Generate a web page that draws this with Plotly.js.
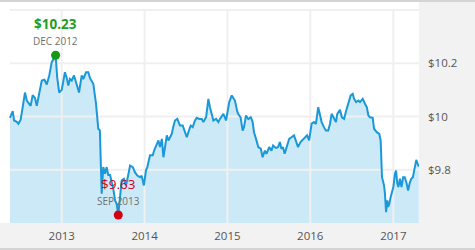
<!DOCTYPE html>
<html><head><meta charset="utf-8">
<script src="https://cdn.plot.ly/plotly-3.0.1.min.js"></script>
<style>
html,body{margin:0;padding:0;background:#f2f2f2;}
body{width:475px;height:250px;overflow:hidden;}
#top{height:2px;background:#d4d4d4;}
#chart{width:475px;height:246px;}
#bot{height:2px;background:#d4d4d4;}
</style></head><body>
<div id="top"></div><div id="chart"></div><div id="bot"></div>
<script>
const dates = [
'2012-05-18','2012-05-30','2012-06-05','2012-06-17','2012-06-24','2012-07-04','2012-07-13','2012-07-23','2012-07-31','2012-08-17',
'2012-08-26','2012-09-05','2012-09-13','2012-09-24','2012-10-05','2012-10-17','2012-10-27','2012-11-07','2012-11-18','2012-12-05',
'2012-12-12','2012-12-21','2013-01-01','2013-01-15','2013-01-23','2013-01-30','2013-02-06','2013-02-14','2013-02-24','2013-03-08',
'2013-03-18','2013-03-30','2013-04-06','2013-04-18','2013-04-28','2013-05-05','2013-05-20','2013-06-01','2013-06-11','2013-06-18',
'2013-06-22','2013-06-26','2013-07-03','2013-07-11','2013-07-18','2013-07-25','2013-08-02','2013-08-16','2013-08-24','2013-08-31',
'2013-09-07','2013-09-15','2013-09-22','2013-10-02','2013-10-11','2013-10-21','2013-10-29','2013-11-10','2013-11-20','2013-11-30',
'2013-12-12','2013-12-19','2013-12-29','2014-01-07','2014-01-13','2014-01-25','2014-02-06','2014-02-12','2014-02-24','2014-03-03',
'2014-03-10','2014-03-18','2014-03-25','2014-04-01','2014-04-09','2014-04-16','2014-05-01','2014-05-07','2014-05-15','2014-05-25',
'2014-06-06','2014-06-18','2014-06-28','2014-07-06','2014-07-13','2014-07-23','2014-08-01','2014-08-11','2014-08-19','2014-08-30',
'2014-09-10','2014-09-17','2014-09-29','2014-10-09','2014-10-16','2014-10-24','2014-10-31','2014-11-12','2014-11-22','2014-11-29',
'2014-12-07','2014-12-14','2014-12-26','2015-01-09','2015-01-20','2015-01-27','2015-02-03','2015-02-13','2015-02-17','2015-02-28',
'2015-03-09','2015-03-15','2015-03-24','2015-04-03','2015-04-14','2015-04-22','2015-04-28','2015-05-07','2015-05-17','2015-05-28',
'2015-06-05','2015-06-15','2015-06-22','2015-07-04','2015-07-14','2015-07-21','2015-08-02','2015-08-12','2015-08-20','2015-08-27',
'2015-09-03','2015-09-10','2015-09-21','2015-09-30','2015-10-10','2015-10-21','2015-10-29','2015-11-08','2015-11-19','2015-12-01',
'2015-12-08','2015-12-18','2015-12-27','2016-01-07','2016-01-17','2016-01-26','2016-02-05','2016-02-13','2016-02-20','2016-03-01',
'2016-03-10','2016-03-20','2016-03-28','2016-04-04','2016-04-14','2016-04-23','2016-04-29','2016-05-11','2016-05-19','2016-05-29',
'2016-06-07','2016-06-17','2016-06-27','2016-07-06','2016-07-12','2016-07-21','2016-07-31','2016-08-07','2016-08-19','2016-08-29',
'2016-09-06','2016-09-13','2016-09-20','2016-10-02','2016-10-08','2016-10-20','2016-10-31','2016-11-06','2016-11-12','2016-11-21',
'2016-11-25','2016-11-30','2016-12-05','2016-12-09','2016-12-14','2016-12-20','2017-01-01','2017-01-08','2017-01-13','2017-01-18',
'2017-01-23','2017-01-30','2017-02-06','2017-02-13','2017-02-20','2017-02-28','2017-03-07','2017-03-14','2017-03-21','2017-03-28',
'2017-04-05','2017-04-12','2017-04-17','2017-04-23'
];
const prices = [
9.995,10.02,9.985,9.98,9.973,9.988,10.035,10.09,10.06,10.04,
10.08,10.07,10.04,10.085,10.135,10.138,10.12,10.154,10.204,10.23,
10.147,10.09,10.10,10.166,10.145,10.116,10.141,10.135,10.154,10.12,
10.09,10.154,10.14,10.166,10.166,10.145,10.123,10.048,9.954,9.948,
9.81,9.71,9.81,9.785,9.81,9.78,9.78,9.729,9.685,9.672,
9.63,9.71,9.76,9.766,9.741,9.78,9.816,9.81,9.79,9.778,
9.772,9.778,9.741,9.797,9.81,9.854,9.854,9.872,9.897,9.91,
9.885,9.916,9.847,9.89,9.929,9.91,9.935,9.96,9.985,9.991,
9.966,9.966,9.941,9.922,9.941,9.966,9.96,9.985,9.995,9.991,
9.991,9.979,9.997,10.066,10.035,10.01,9.985,9.991,9.979,9.991,
10.004,10.01,9.985,10.054,10.079,10.07,10.06,10.02,10.01,9.997,
9.947,9.96,10.004,9.99,9.997,9.98,9.941,9.916,9.885,9.879,
9.847,9.872,9.86,9.885,9.872,9.891,9.882,9.885,9.904,9.879,
9.885,9.86,9.891,9.916,9.922,9.929,9.91,9.885,9.904,9.916,
9.922,9.929,9.91,9.973,9.979,9.972,10.035,10.01,9.979,9.96,
9.947,9.947,9.973,10.01,9.991,9.979,10.01,10.025,9.997,9.991,
10.022,10.054,10.079,10.085,10.066,10.054,10.06,10.054,10.066,10.048,
10.035,10.004,9.997,9.995,9.954,9.941,9.935,9.91,9.772,9.741,
9.71,9.641,9.685,9.66,9.672,9.697,9.735,9.785,9.797,9.75,
9.735,9.766,9.735,9.772,9.772,9.75,9.722,9.75,9.766,9.772,
9.81,9.837,9.825,9.812
];
const xTickVals = ['2013-01-01','2014-01-01','2015-01-01','2016-01-01','2017-01-01'];
const xTickText = ['2013','2014','2015','2016','2017'];
const yTickVals = [9.8, 10.0, 10.2, 10.4];
const yTickText = ['$9.8','$10','$10.2',''];
const xRange = ['2012-04-04','2017-04-24'];
const yRange = [9.6, 10.43];
const monthNames = ['JAN','FEB','MAR','APR','MAY','JUN','JUL','AUG','SEP','OCT','NOV','DEC'];

let iMax = 0, iMin = 0;
prices.forEach((v, i) => { if (v > prices[iMax]) iMax = i; if (v < prices[iMin]) iMin = i; });
const monthLabel = d => { const p = d.split('-'); return monthNames[+p[1] - 1] + ' ' + p[0]; };

const gridColor = '#f0f0f0';
const gx = [], gy = [];
xTickVals.forEach(t => { gx.push(t, t, null); gy.push(yRange[0], yTickVals[yTickVals.length - 1], null); });
yTickVals.forEach(v => { gx.push(dates[0], xRange[1], null); gy.push(v, v, null); });

const traces = [
  {x: dates, y: prices, type: 'scatter', mode: 'lines', fill: 'tozeroy', fillcolor: '#cce9f7',
   line: {width: 0, color: '#cce9f7'}, hoverinfo: 'skip'},
  {x: gx, y: gy, type: 'scatter', mode: 'lines', line: {color: gridColor, width: 2}, hoverinfo: 'skip'},
  {x: dates, y: prices, type: 'scatter', mode: 'lines', line: {color: '#1a98d8', width: 2}, hoverinfo: 'skip'},
  {x: [dates[iMax]], y: [prices[iMax]], type: 'scatter', mode: 'markers', opacity: 1,
   marker: {color: '#149a14', size: 9, opacity: 1, line: {width: 0}}, hoverinfo: 'skip'},
  {x: [dates[iMin]], y: [prices[iMin]], type: 'scatter', mode: 'markers', opacity: 1,
   marker: {color: '#d4000f', size: 9, opacity: 1, line: {width: 0}}, hoverinfo: 'skip'}
];

const annFont = (c, s, w) => ({family: 'Open Sans, sans-serif', color: c, size: s, weight: w});
const annBase = {showarrow: false, borderpad: 0};
const annotations = [
  Object.assign({x: dates[iMax], y: prices[iMax], text: '$' + prices[iMax].toFixed(2), yshift: 31, font: annFont('#1f9e1f', 13.5, 'bold')}, annBase),
  Object.assign({x: dates[iMax], y: prices[iMax], text: monthLabel(dates[iMax]), yshift: 14.5, font: annFont('#707070', 10, 'normal')}, annBase),
  Object.assign({x: dates[iMin], y: prices[iMin], text: '$' + prices[iMin].toFixed(2), yshift: 31, font: annFont('#d0021b', 13.5, 'normal')}, annBase),
  Object.assign({x: dates[iMin], y: prices[iMin], text: monthLabel(dates[iMin]), yshift: 14.5, font: annFont('#707070', 10, 'normal')}, annBase)
];

const layout = {
  width: 475, height: 246,
  margin: {l: 0, r: 56, t: 0, b: 25, pad: 0},
  paper_bgcolor: '#f2f2f2', plot_bgcolor: '#ffffff',
  showlegend: false,
  font: {family: 'Open Sans, sans-serif', size: 11.5, color: '#555555'},
  xaxis: {type: 'date', range: xRange, tickvals: xTickVals, ticktext: xTickText, showgrid: false,
          zeroline: false, showline: false, ticks: '', ticklabelstandoff: 4, fixedrange: true},
  yaxis: {range: yRange, side: 'right', tickvals: yTickVals, ticktext: yTickText, showgrid: false,
          zeroline: false, showline: false, ticks: '', ticklabelstandoff: 8, fixedrange: true},
  annotations: annotations
};
Plotly.newPlot('chart', traces, layout, {staticPlot: true, displayModeBar: false});
</script>
</body></html>
